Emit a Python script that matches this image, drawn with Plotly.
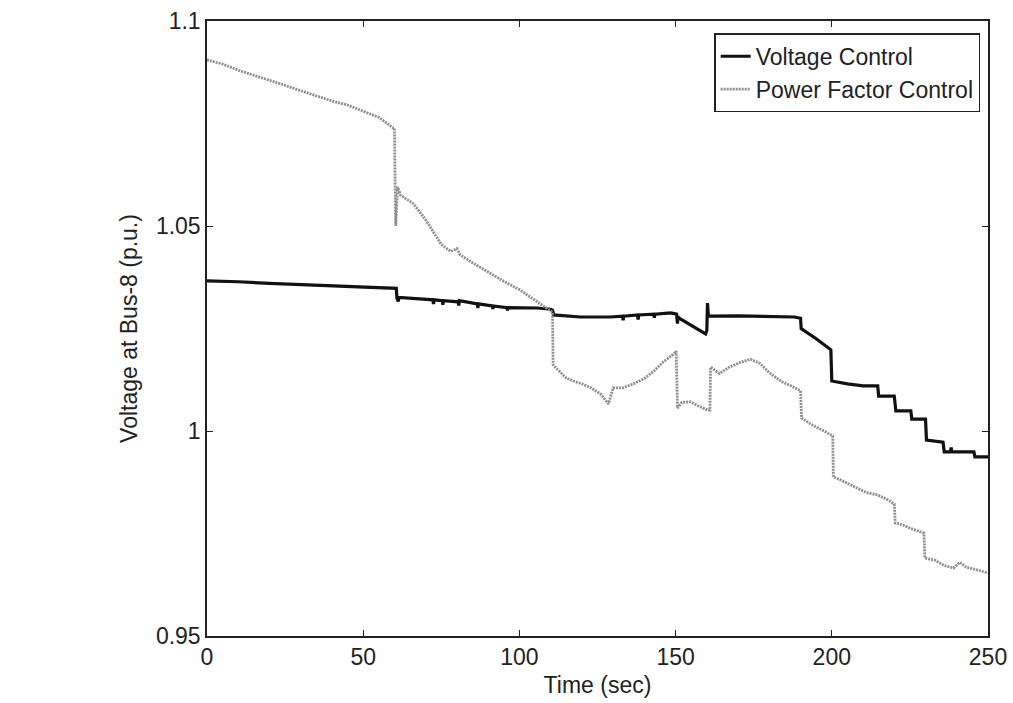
import plotly.graph_objects as go

# Voltage Control (black)
vc_t = [0, 10, 20, 30, 40, 50, 55, 60.6, 60.8, 61.2, 61.5, 65, 69, 72.3, 72.5, 72.7,
        75.3, 75.5, 75.7, 80.4, 80.6, 80.8, 86.5, 86.7, 86.9, 91.3, 91.5, 91.7, 96, 96.2, 96.4,
        105.7, 110, 110.6, 111, 119.5, 129, 133, 133.2, 133.4, 137.8, 138, 138.2, 143, 143.2, 143.4,
        148.4, 150.3, 150.6, 150.8, 151, 159.6, 160, 160.2, 160.5, 170, 177, 185, 188, 190,
        190.2, 195, 199.7, 200, 205, 210, 214.7, 215, 220, 220.5, 225.3, 225.6, 230, 230.3,
        235.6, 236, 238, 238.2, 238.4, 245.5, 245.8, 250]
vc_v = [1.0366, 1.0364, 1.0360, 1.0357, 1.0353, 1.0350, 1.0349, 1.0348, 1.0324, 1.0316, 1.0326, 1.0324, 1.0322, 1.0320, 1.0310, 1.0320,
        1.0318, 1.0308, 1.0318, 1.0315, 1.0306, 1.0318, 1.0310, 1.0300, 1.0310, 1.0305, 1.0298, 1.0305, 1.0301, 1.0294, 1.0301,
        1.0300, 1.0297, 1.0295, 1.0283, 1.0278, 1.0278, 1.0280, 1.0270, 1.0280, 1.0283, 1.0272, 1.0283, 1.0285, 1.0276, 1.0285,
        1.0288, 1.0285, 1.0262, 1.0280, 1.0276, 1.0237, 1.0245, 1.0312, 1.0280, 1.0281, 1.0280, 1.0280, 1.0278, 1.0275,
        1.0250, 1.0225, 1.0198, 1.0122, 1.0115, 1.0110, 1.0110, 1.0085, 1.0085, 1.0049, 1.0049, 1.0029, 1.0029, 0.9978,
        0.9973, 0.9949, 0.9949, 0.9960, 0.9949, 0.9949, 0.9937, 0.9937]

# Power Factor Control (gray dotted)
pf_t = [0, 5, 10, 15, 20, 25, 30, 35, 40, 45, 50, 55, 59.6, 60.0, 60.4, 61, 62, 66, 70, 72, 75, 78, 80,
        81, 85, 90, 95, 100, 104, 107, 110, 110.6, 110.8, 113, 115, 118, 120, 123, 126, 128.5, 130, 133,
        136.5, 140, 143, 146, 149.4, 150.2, 150.6, 152, 154.8, 157, 160.3, 161, 161.2, 164, 167, 171, 174,
        177, 180, 184, 187, 190, 190.3, 193, 195.5, 198, 200.3, 200.5, 203, 205, 208, 211, 214.7, 218, 220,
        220.3, 223, 226, 229.5, 229.8, 233, 236, 239, 241, 243, 245.5, 250]
pf_v = [1.0905, 1.0895, 1.0880, 1.0868, 1.0855, 1.0843, 1.0830, 1.0818, 1.0805, 1.0795, 1.0780, 1.0765, 1.0739, 1.0739, 1.0500, 1.0595, 1.0575, 1.0555, 1.0515, 1.0490, 1.0455, 1.0438, 1.0445,
        1.0430, 1.0410, 1.0388, 1.0365, 1.0345, 1.0325, 1.0310, 1.0295, 1.0290, 1.0161, 1.0145, 1.0129, 1.0120, 1.0115, 1.0105, 1.0090, 1.0066, 1.0105, 1.0105,
        1.0115, 1.0128, 1.0146, 1.0168, 1.0188, 1.0195, 1.0056, 1.0070, 1.0071, 1.0062, 1.0051, 1.0051, 1.0156, 1.0140, 1.0155, 1.0168, 1.0175,
        1.0165, 1.0142, 1.0120, 1.0110, 1.0098, 1.0032, 1.0018, 1.0007, 0.9998, 0.9988, 0.9888, 0.9880, 0.9873, 0.9862, 0.9850, 0.9844, 0.9832, 0.9822,
        0.9776, 0.9770, 0.9760, 0.9751, 0.9690, 0.9685, 0.9672, 0.9666, 0.9680, 0.9668, 0.9663, 0.9654]

x_ticks = [0, 50, 100, 150, 200, 250]
y_ticks = [0.95, 1.0, 1.05, 1.1]
y_tick_text = ["0.95", "1", "1.05", "1.1"]

fig = go.Figure()
fig.add_trace(go.Scatter(x=vc_t, y=vc_v, mode="lines", name="Voltage Control",
                         line=dict(color="#111111", width=3.2)))
fig.add_trace(go.Scatter(x=pf_t, y=pf_v, mode="lines", name="Power Factor Control",
                         line=dict(color="#8f8f8f", width=2.8, dash="2px,1px")))

FAM = "Liberation Sans, Arial, sans-serif"
tickfont = dict(family=FAM, size=23, color="#222222")
titlefont = dict(family=FAM, size=23, color="#222222")

fig.update_layout(
    width=1013, height=703,
    margin=dict(l=207, r=25, t=21, b=67, autoexpand=False),
    paper_bgcolor="white", plot_bgcolor="white",
    font=dict(family=FAM, size=23, color="#222222"),
    showlegend=True,
    legend=dict(x=0.99, y=0.98, xanchor="right", yanchor="top",
                bgcolor="white", bordercolor="#222222", borderwidth=1.5,
                font=dict(family=FAM, size=23, color="#222222"),
                tracegroupgap=0),
    xaxis=dict(range=[0, 250], tickvals=x_ticks, ticks="inside", ticklen=6, tickwidth=1,
               tickcolor="#222222", showline=True, linecolor="#222222", linewidth=1.5,
               mirror="ticks", showgrid=False, zeroline=False, automargin=False,
               tickfont=tickfont,
               title=dict(text="Time (sec)", standoff=8, font=titlefont)),
    yaxis=dict(range=[0.95, 1.1], tickvals=y_ticks, ticktext=y_tick_text, ticks="inside",
               ticklen=6, tickwidth=1, tickcolor="#222222", showline=True, linecolor="#222222",
               linewidth=1.5, mirror="ticks", showgrid=False, zeroline=False, automargin=False,
               tickfont=tickfont,
               title=dict(text="Voltage at Bus-8 (p.u.)", standoff=12, font=titlefont)),
)

fig.write_html("out.html")
